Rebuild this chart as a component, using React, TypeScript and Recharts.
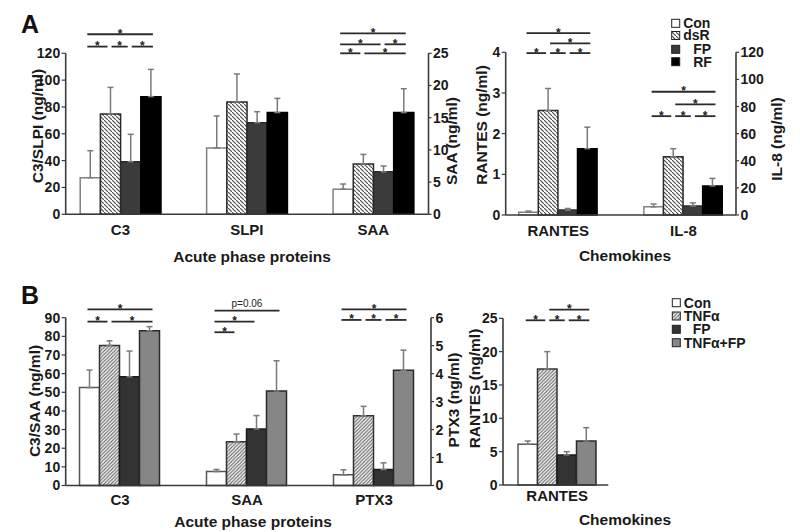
import React from 'react';
import { BarChart, Bar, XAxis, YAxis, ErrorBar } from 'recharts';

const W = 800;
const H = 532;
const FONT = '"Liberation Sans", Arial, Helvetica, sans-serif';
const AXIS = '#3a3a3a';
const TXT = '#1a1a1a';
const ERR = '#7a7a7a';
const YW = 40; // width reserved for each y axis
const XH = 30; // height reserved for the x axis

// ---------- Panel A : acute phase proteins ----------
const groupsA = ['Con', 'dsR', 'FP', 'RF'];
const acuteCatsA = ['C3', 'SLPI', 'SAA'];
const acuteRightA = [false, false, true]; // SAA read on right axis
const acuteA_Con = [27.3, 49.4, 3.9];
const acuteA_dsR = [74.8, 83.7, 7.8];
const acuteA_FP = [39.2, 68.3, 6.6];
const acuteA_RF = [87.7, 75.8, 15.8];
const acuteA_ConSD = [20.1, 23.9, 0.8];
const acuteA_dsRSD = [19.8, 20.9, 1.5];
const acuteA_FPSD = [20.4, 8.2, 0.9];
const acuteA_RFSD = [20.3, 10.6, 3.7];
const acuteA_leftTicks = [0, 20, 40, 60, 80, 100, 120];
const acuteA_rightTicks = [0, 5, 10, 15, 20, 25];

// ---------- Panel A : chemokines ----------
const chemCatsA = ['RANTES', 'IL-8'];
const chemRightA = [false, true]; // IL-8 read on right axis
const chemA_Con = [0.066, 6.1];
const chemA_dsR = [2.57, 43.0];
const chemA_FP = [0.12, 6.6];
const chemA_RF = [1.63, 21.4];
const chemA_ConSD = [0.03, 2.0];
const chemA_dsRSD = [0.54, 5.9];
const chemA_FPSD = [0.04, 2.3];
const chemA_RFSD = [0.53, 5.6];
const chemA_leftTicks = [0, 1, 2, 3, 4];
const chemA_rightTicks = [0, 20, 40, 60, 80, 100, 120];

// ---------- Panel B : acute phase proteins ----------
const groupsB = ['Con', 'TNFα', 'FP', 'TNFα+FP'];
const acuteCatsB = ['C3', 'SAA', 'PTX3'];
const acuteRightB = [false, false, true]; // PTX3 read on right axis
const acuteB_Con = [52.5, 7.5, 0.38];
const acuteB_TNF = [75.1, 23.5, 2.49];
const acuteB_FP = [58.3, 30.3, 0.57];
const acuteB_TNFFP = [83.0, 50.7, 4.12];
const acuteB_ConSD = [9.4, 1.1, 0.18];
const acuteB_TNFSD = [2.5, 4.1, 0.34];
const acuteB_FPSD = [13.8, 7.2, 0.24];
const acuteB_TNFFPSD = [2.2, 16.2, 0.72];
const acuteB_leftTicks = [0, 10, 20, 30, 40, 50, 60, 70, 80, 90];
const acuteB_rightTicks = [0, 1, 2, 3, 4, 5, 6];

// ---------- Panel B : chemokines ----------
const chemCatsB = ['RANTES'];
const chemRightB = [false];
const chemB_Con = [6.1];
const chemB_TNF = [17.4];
const chemB_FP = [4.5];
const chemB_TNFFP = [6.6];
const chemB_ConSD = [0.5];
const chemB_TNFSD = [2.6];
const chemB_FPSD = [0.5];
const chemB_TNFFPSD = [2.0];
const chemB_leftTicks = [0, 5, 10, 15, 20, 25];

// ---------- significance marks (category, from bar, to bar, level in left-axis units, label) ----------
const sigAcuteA = [
  [0, 0, 3, 134.2, '*'], [0, 0, 1, 125, '*'], [0, 1, 2, 125, '*'], [0, 2, 3, 125, '*'],
  [2, 0, 3, 134.9, '*'], [2, 0, 2, 126.7, '*'], [2, 2, 3, 126.7, '*'], [2, 0, 1, 120, '*'], [2, 1, 3, 120, '*'],
];
const sigChemA = [
  [0, 0, 3, 4.47, '*'], [0, 1, 3, 4.22, '*'], [0, 0, 1, 3.98, '*'], [0, 1, 2, 3.98, '*'], [0, 2, 3, 3.98, '*'],
  [1, 0, 3, 3.03, '*'], [1, 1, 3, 2.72, '*'], [1, 0, 1, 2.43, '*'], [1, 1, 2, 2.43, '*'], [1, 2, 3, 2.43, '*'],
];
const sigAcuteB = [
  [0, 0, 3, 94.5, '*'], [0, 0, 1, 87.9, '*'], [0, 1, 3, 87.9, '*'],
  [1, 0, 3, 93.8, 'p=0.06'], [1, 0, 2, 87.9, '*'], [1, 0, 1, 82.2, '*'],
  [2, 0, 3, 94.5, '*'], [2, 0, 1, 88.8, '*'], [2, 1, 2, 88.8, '*'], [2, 2, 3, 88.8, '*'],
];
const sigChemB = [
  [0, 1, 3, 26.3, '*'], [0, 0, 1, 24.7, '*'], [0, 1, 2, 24.7, '*'], [0, 2, 3, 24.7, '*'],
];

// ---------- layout ----------
const layAcuteA = { x1: 65.7, x2: 428.5, top: 53.3, bottom: 214.3, padL: -8.5, padR: -8, barSize: 20.2, catMargin: 10.3, lMax: 120, rMax: 25 };
const layChemA = { x1: 505.7, x2: 736, top: 52.3, bottom: 215, padL: -10, padR: -10, barSize: 19.6, catMargin: 10, lMax: 4, rMax: 120 };
const layAcuteB = { x1: 65.7, x2: 431, top: 317.7, bottom: 485.5, padL: -9.2, padR: -6.5, barSize: 20, catMargin: 9, lMax: 90, rMax: 6 };
const layChemB = { x1: 503, x2: 608.3, top: 318.3, bottom: 485, padL: 3, padR: 0, barSize: 19.5, catMargin: 5.6, lMax: 25, rMax: 0 };

const fillsA = ['#ffffff', 'url(#hatchA)', '#3b3b3b', '#000000'];
const strokesA = ['#808080', '#2a2a2a', '#2a2a2a', '#000000'];
const fillsB = ['#ffffff', 'url(#hatchB)', '#333333', '#868686'];
const strokesB = ['#555555', '#333333', '#1a1a1a', '#2a2a2a'];

function buildRows(cats: string[], series: number[][], sds: number[][], onRight: boolean[], factor: number) {
  return cats.map((c, k) => {
    const f = onRight[k] ? factor : 1;
    const row: any = { cat: c };
    series.forEach((s, i) => {
      row['s' + i] = s[k] * f;
      row['e' + i] = [0, sds[i][k] * f];
    });
    return row;
  });
}

const rowsAcuteA = buildRows(acuteCatsA, [acuteA_Con, acuteA_dsR, acuteA_FP, acuteA_RF], [acuteA_ConSD, acuteA_dsRSD, acuteA_FPSD, acuteA_RFSD], acuteRightA, layAcuteA.lMax / layAcuteA.rMax);
const rowsChemA = buildRows(chemCatsA, [chemA_Con, chemA_dsR, chemA_FP, chemA_RF], [chemA_ConSD, chemA_dsRSD, chemA_FPSD, chemA_RFSD], chemRightA, layChemA.lMax / layChemA.rMax);
const rowsAcuteB = buildRows(acuteCatsB, [acuteB_Con, acuteB_TNF, acuteB_FP, acuteB_TNFFP], [acuteB_ConSD, acuteB_TNFSD, acuteB_FPSD, acuteB_TNFFPSD], acuteRightB, layAcuteB.lMax / layAcuteB.rMax);
const rowsChemB = buildRows(chemCatsB, [chemB_Con, chemB_TNF, chemB_FP, chemB_TNFFP], [chemB_ConSD, chemB_TNFSD, chemB_FPSD, chemB_TNFFPSD], chemRightB, 1);

function barCenter(lay: any, nCats: number, nBars: number, cat: number, bar: number) {
  const r0 = lay.x1 + lay.padL;
  const r1 = lay.x2 - lay.padR;
  const bw = (r1 - r0) / nCats;
  const off = Math.trunc((bw - nBars * lay.barSize) / 2);
  return r0 + cat * bw + off + bar * lay.barSize + lay.barSize / 2;
}
function yPix(lay: any, v: number) {
  return lay.bottom - (v / lay.lMax) * (lay.bottom - lay.top);
}

const tickStyle = { fill: TXT, fontSize: 14, fontWeight: 700, fontFamily: FONT };

function Panel({ lay, rows, fills, strokes, leftTicks, rightTicks }: any) {
  const hasRight = !!rightTicks;
  return (
    <div style={{ position: 'absolute', left: 0, top: 0 }}>
      <BarChart
        width={W}
        height={H}
        data={rows}
        barGap={0}
        barSize={lay.barSize}
        margin={{
          top: lay.top,
          bottom: H - lay.bottom - XH,
          left: lay.x1 - YW,
          right: W - lay.x2 - (hasRight ? YW : 0),
        }}
      >
        <XAxis
          dataKey="cat"
          height={XH}
          tickSize={0}
          tickMargin={lay.catMargin}
          interval={0}
          padding={{ left: lay.padL, right: lay.padR }}
          axisLine={{ stroke: AXIS, strokeWidth: 1.6 }}
          tickLine={false}
          tick={{ fill: TXT, fontSize: 15, fontWeight: 700, fontFamily: FONT }}
        />
        <YAxis
          yAxisId="left"
          width={YW}
          domain={[0, lay.lMax]}
          ticks={leftTicks}
          interval={0}
          tickSize={4}
          tickMargin={1.5}
          axisLine={{ stroke: AXIS, strokeWidth: 1.6 }}
          tickLine={{ stroke: AXIS, strokeWidth: 1.2 }}
          tick={tickStyle}
        />
        {hasRight ? (
          <YAxis
            yAxisId="right"
            orientation="right"
            width={YW}
            type="number"
            allowDataOverflow
            domain={[0, lay.rMax]}
            ticks={rightTicks}
            interval={0}
            tickSize={3}
            tickMargin={1.5}
            axisLine={{ stroke: AXIS, strokeWidth: 1.6 }}
            tickLine={{ stroke: AXIS, strokeWidth: 1.2 }}
            tick={tickStyle}
          />
        ) : null}
        {[0, 1, 2, 3].map((i) => (
          <Bar key={i} yAxisId="left" dataKey={'s' + i} fill={fills[i]} stroke={strokes[i]} strokeWidth={1.5} isAnimationActive={false}>
            <ErrorBar dataKey={'e' + i} width={3} stroke={ERR} strokeWidth={1.5} direction="y" />
          </Bar>
        ))}
      </BarChart>
    </div>
  );
}

function SigMarks({ lay, sig, nCats }: any) {
  return (
    <g>
      {sig.map((s: any, idx: number) => {
        const [cat, from, to, level, label] = s;
        const cf = barCenter(lay, nCats, 4, cat, from);
        const ct = barCenter(lay, nCats, 4, cat, to);
        const x1 = cf + (from === 0 ? -2 : 2);
        const x2 = ct + (to === 3 ? 3 : -2);
        const y = yPix(lay, level);
        const isStar = label === '*';
        return (
          <g key={idx}>
            <line x1={x1} x2={x2} y1={y} y2={y} stroke="#2a2a2a" strokeWidth={1.8} />
            <text
              x={(x1 + x2) / 2}
              y={isStar ? y + 3.5 : y - 3.5}
              textAnchor="middle"
              fontSize={isStar ? 12 : 10}
              fontWeight={isStar ? 700 : 400}
              fill="#222"
              fontFamily={FONT}
            >
              {label}
            </text>
          </g>
        );
      })}
    </g>
  );
}

function VTitle({ x, y, children }: any) {
  return (
    <text x={x} y={y} transform={`rotate(-90, ${x}, ${y})`} textAnchor="middle" dy="0.35em" fontSize={15.5} fontWeight={700} fill={TXT} fontFamily={FONT}>
      {children}
    </text>
  );
}
function HTitle({ x, y, children }: any) {
  return (
    <text x={x} y={y} textAnchor="middle" dy="0.35em" fontSize={15.5} fontWeight={700} fill={TXT} fontFamily={FONT}>
      {children}
    </text>
  );
}

function LegendBox({ x, rows, labels, indents, fills }: any) {
  return (
    <g>
      {labels.map((l: string, i: number) => (
        <g key={l}>
          <rect x={x} y={rows[i] - 4} width={8} height={8} fill={fills[i]} stroke="#222" strokeWidth={1} />
          <text x={x + 11.5 + indents[i]} y={rows[i]} dy="0.35em" fontSize={14} fontWeight={700} fill={TXT} fontFamily={FONT}>
            {l}
          </text>
        </g>
      ))}
    </g>
  );
}

export default function App() {
  return (
    <div style={{ position: 'absolute', left: 0, top: 0, width: W, height: H, background: '#fff', fontFamily: FONT, overflow: 'hidden' }}>
      <svg width={0} height={0} style={{ position: 'absolute' }}>
        <defs>
          <pattern id="hatchA" patternUnits="userSpaceOnUse" width={4} height={4}>
            <rect width={4} height={4} fill="#ffffff" />
            <path d="M-1,-1 l2,2 M0,0 l4,4 M3,3 l2,2" stroke="#555" strokeWidth={1.2} />
          </pattern>
          <pattern id="hatchB" patternUnits="userSpaceOnUse" width={3.5} height={3.5}>
            <rect width={3.5} height={3.5} fill="#ffffff" />
            <path d="M-1,1 l2,-2 M0,3.5 l3.5,-3.5 M2.5,4.5 l2,-2" stroke="#666" strokeWidth={1.1} />
          </pattern>
        </defs>
      </svg>

      <Panel lay={layAcuteA} rows={rowsAcuteA} fills={fillsA} strokes={strokesA} leftTicks={acuteA_leftTicks} rightTicks={acuteA_rightTicks} />
      <Panel lay={layChemA} rows={rowsChemA} fills={fillsA} strokes={strokesA} leftTicks={chemA_leftTicks} rightTicks={chemA_rightTicks} />
      <Panel lay={layAcuteB} rows={rowsAcuteB} fills={fillsB} strokes={strokesB} leftTicks={acuteB_leftTicks} rightTicks={acuteB_rightTicks} />
      <Panel lay={layChemB} rows={rowsChemB} fills={fillsB} strokes={strokesB} leftTicks={chemB_leftTicks} rightTicks={null} />

      <svg width={W} height={H} style={{ position: 'absolute', left: 0, top: 0 }}>
        <text x={21} y={33} fontSize={25} fontWeight={700} fill="#111" fontFamily={FONT}>A</text>
        <text x={21} y={303.5} fontSize={25} fontWeight={700} fill="#111" fontFamily={FONT}>B</text>

        <VTitle x={37.5} y={126}>C3/SLPI (ng/ml)</VTitle>
        <VTitle x={451.7} y={141}>SAA (ng/ml)</VTitle>
        <VTitle x={481.7} y={125}>RANTES (ng/ml)</VTitle>
        <VTitle x={777} y={139}>IL-8 (ng/ml)</VTitle>
        <VTitle x={35} y={401}>C3/SAA (ng/ml)</VTitle>
        <VTitle x={453.3} y={400}>PTX3 (ng/ml)</VTitle>
        <VTitle x={475} y={388.5}>RANTES (ng/ml)</VTitle>

        <HTitle x={252} y={257}>Acute phase proteins</HTitle>
        <HTitle x={625} y={256}>Chemokines</HTitle>
        <HTitle x={253} y={521.7}>Acute phase proteins</HTitle>
        <HTitle x={625} y={520}>Chemokines</HTitle>

        <SigMarks lay={layAcuteA} sig={sigAcuteA} nCats={acuteCatsA.length} />
        <SigMarks lay={layChemA} sig={sigChemA} nCats={chemCatsA.length} />
        <SigMarks lay={layAcuteB} sig={sigAcuteB} nCats={acuteCatsB.length} />
        <SigMarks lay={layChemB} sig={sigChemB} nCats={chemCatsB.length} />

        <LegendBox x={671.7} rows={[23.3, 35.5, 49.3, 61.7]} labels={groupsA} indents={[0, 0, 10, 10]} fills={fillsA} />
        <LegendBox x={672.3} rows={[302.7, 316, 329.3, 342.7]} labels={groupsB} indents={[0, 0, 9, 0]} fills={fillsB} />
      </svg>
    </div>
  );
}
